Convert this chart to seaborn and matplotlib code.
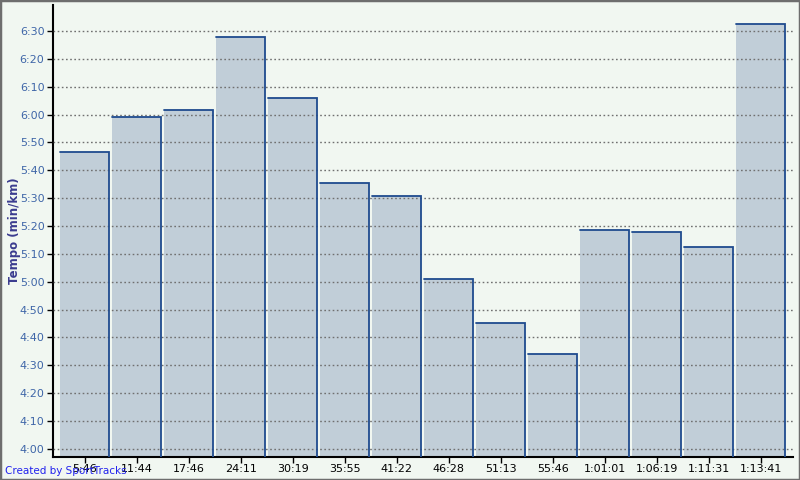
import numpy as np
import pandas as pd
import matplotlib
matplotlib.use("Agg")
import matplotlib.pyplot as plt
import seaborn as sns
from matplotlib.ticker import MultipleLocator, FuncFormatter

# ===============================
# DATA (pace per split, seconds per km)
# ===============================
split_labels = ["5:46", "11:44", "17:46", "24:11", "30:19", "35:55", "41:22",
                "46:28", "51:13", "55:46", "1:01:01", "1:06:19", "1:11:31", "1:13:41"]
pace_sec = [346.5, 359.3, 361.8, 387.7, 365.8, 335.3, 330.6,
            301.0, 285.2, 274.1, 318.4, 317.7, 312.3, 392.5]

df = pd.DataFrame({"split": split_labels, "pace": pace_sec})

BG = "#f1f7f1"
FILL = "#c1ced8"
EDGE = "#1f4b8e"

sns.set_style("white")
plt.rcParams["font.family"] = ["DejaVu Sans"]

fig = plt.figure(figsize=(8, 4.8), dpi=100, facecolor=BG)
ax = fig.add_axes([0.066, 0.048, 0.925, 0.942])
ax.set_facecolor(BG)

sns.barplot(data=df, x="split", y="pace", color=FILL, width=0.95,
            saturation=1, edgecolor="none", linewidth=0, ax=ax)

# top + right border on each bar
for p in ax.patches:
    x0 = p.get_x()
    x1 = x0 + p.get_width()
    top = p.get_y() + p.get_height()
    ax.plot([x0, x1, x1], [top, top, 0], color=EDGE, lw=1.3, zorder=3,
            solid_joinstyle="miter")

ax.set_ylim(237.1, 399.4)
ax.set_xlim(-0.615, 13.62)

ax.yaxis.set_major_locator(MultipleLocator(10))
ax.yaxis.set_major_formatter(FuncFormatter(lambda v, pos: f"{int(v)//60}:{int(v)%60:02d}"))

ax.set_axisbelow(False)
ax.yaxis.grid(True, linestyle=(0, (1.2, 1.8)), color="#707070", lw=1.0, zorder=2.5)
ax.xaxis.grid(False)

for s in ["top", "right"]:
    ax.spines[s].set_visible(False)
for s in ["left", "bottom"]:
    ax.spines[s].set_color("black")
    ax.spines[s].set_linewidth(1.5)

ax.tick_params(axis="y", length=4, width=1, color="black", labelsize=8,
               labelcolor="#3f66a8", pad=2, left=True)
ax.tick_params(axis="x", length=4, width=1, color="black", labelsize=8,
               labelcolor="black", pad=1, bottom=True)

ax.set_xlabel("")
ax.set_ylabel("Tempo (min/km)", fontsize=8.5, fontweight="bold", color="#3b3c8f")
ax.yaxis.set_label_coords(-0.0514, 0.5)
ax.yaxis.label.set_va("center")

fig.text(0.006, 0.008, "Created by SportTracks", fontsize=7.5, color="#2222ee",
         ha="left", va="bottom")

# outer border
fig.patches.append(plt.Rectangle((0, 0), 1, 1, transform=fig.transFigure,
                                 fill=False, edgecolor="#6e6e6e", lw=2.5))

fig.savefig("out.png", dpi=100, facecolor=BG)
